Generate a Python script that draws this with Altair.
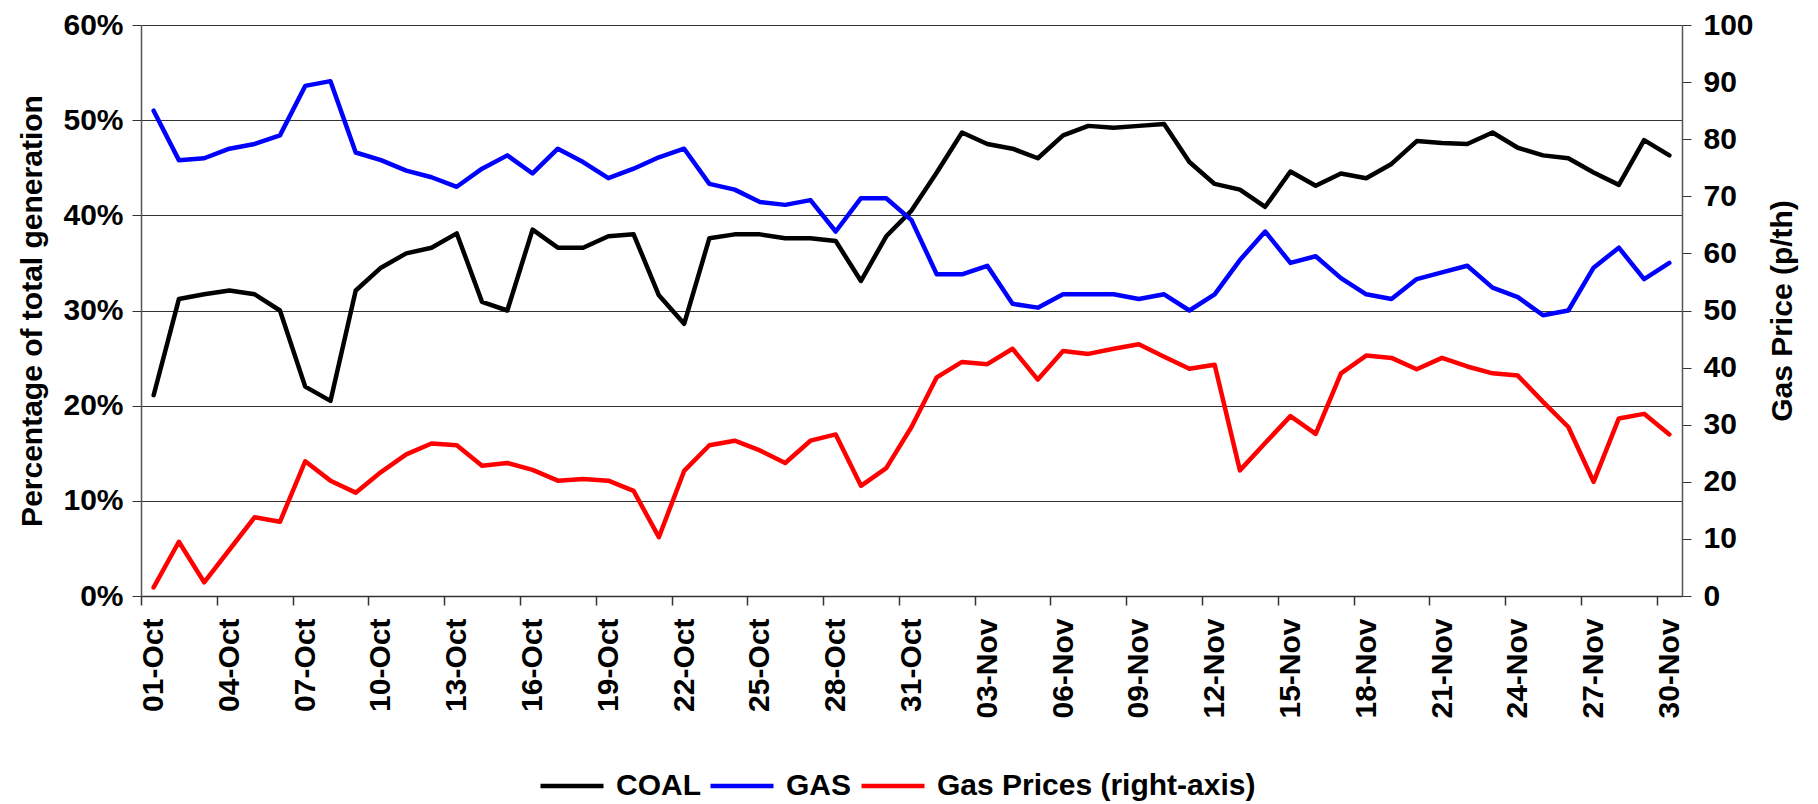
import altair as alt
import pandas as pd

# Categories: daily dates 01-Oct .. 30-Nov
dates = [d.strftime("%d-%b") for d in pd.date_range("2000-10-01", "2000-11-30")]

# Share of total generation (%)
coal = [21.1, 31.2, 31.7, 32.1, 31.7, 30.0, 22.0, 20.5, 32.1, 34.5,
        36.0, 36.6, 38.1, 30.9, 30.0, 38.5, 36.6, 36.6, 37.8, 38.0,
        31.6, 28.6, 37.6, 38.0, 38.0, 37.6, 37.6, 37.3, 33.1, 37.8,
        40.5, 44.5, 48.7, 47.5, 47.0, 46.0, 48.4, 49.4, 49.2, 49.4,
        49.6, 45.6, 43.3, 42.7, 40.9, 44.6, 43.1, 44.4, 43.9, 45.4,
        47.8, 47.6, 47.5, 48.7, 47.1, 46.3, 46.0, 44.5, 43.2, 47.9,
        46.3]
gas = [51.0, 45.8, 46.0, 47.0, 47.5, 48.4, 53.6, 54.1, 46.6, 45.8,
       44.7, 44.0, 43.0, 44.9, 46.3, 44.4, 47.0, 45.6, 43.9, 44.9,
       46.1, 47.0, 43.3, 42.7, 41.4, 41.1, 41.6, 38.3, 41.8, 41.8,
       39.5, 33.8, 33.8, 34.7, 30.7, 30.3, 31.7, 31.7, 31.7, 31.2,
       31.7, 30.0, 31.7, 35.3, 38.3, 35.0, 35.7, 33.4, 31.7, 31.2,
       33.3, 34.0, 34.7, 32.4, 31.4, 29.5, 30.0, 34.5, 36.6, 33.3,
       35.0]
# Gas price (p/th), right axis
price = [1.5, 9.5, 2.4, 8.1, 13.8, 13.0, 23.6, 20.2, 18.1, 21.7,
         24.8, 26.7, 26.4, 22.8, 23.3, 22.1, 20.2, 20.5, 20.2, 18.4,
         10.3, 21.9, 26.4, 27.2, 25.5, 23.3, 27.2, 28.3, 19.3, 22.4,
         29.6, 38.3, 41.0, 40.6, 43.3, 37.9, 42.9, 42.4, 43.3, 44.1,
         41.9, 39.8, 40.5, 22.0, 26.8, 31.5, 28.4, 39.0, 42.1, 41.7,
         39.7, 41.7, 40.2, 39.0, 38.6, 34.0, 29.6, 20.0, 31.1, 31.9,
         28.3]

series_names = ["COAL", "GAS", "Gas Prices (right-axis)"]
series_colors = ["#000000", "#0000ff", "#ff0000"]
left_ticks = [0, 0.1, 0.2, 0.3, 0.4, 0.5, 0.6]
right_ticks = [0, 10, 20, 30, 40, 50, 60, 70, 80, 90, 100]

n = len(dates)
rows = []
for i in range(n):
    rows.append({"i": i, "date": dates[i], "series": series_names[0], "value": coal[i] / 100})
for i in range(n):
    rows.append({"i": i, "date": dates[i], "series": series_names[1], "value": gas[i] / 100})
df_left = pd.DataFrame(rows)
df_right = pd.DataFrame({"i": list(range(n)), "date": dates,
                         "series": [series_names[2]] * n, "price": price})

FONT = "Liberation Sans"
FS = 30
label_expr = "[" + ",".join("'" + d + "'" for d in dates) + "][datum.value]"
x_scale = alt.Scale(domain=[-0.5, n - 0.5], nice=False, zero=False)

color = alt.Color(
    "series:N",
    scale=alt.Scale(domain=series_names, range=series_colors),
    legend=alt.Legend(
        orient="none", legendX=397, legendY=727, direction="horizontal",
        title=None, symbolType="stroke", symbolSize=3969, symbolStrokeWidth=4.5,
        labelFontSize=FS, labelFont=FONT, labelFontWeight="bold", labelColor="black",
        labelLimit=1000, columnPadding=0, labelOffset=10, padding=0,
    ),
)

line_props = dict(strokeWidth=4.5, strokeJoin="round", strokeCap="round")

left = alt.Chart(df_left).mark_line(**line_props).encode(
    x=alt.X("i:Q", scale=x_scale, title=None,
            axis=alt.Axis(values=list(range(0, n, 3)), labelExpr=label_expr,
                          ticks=False, tickSize=0, grid=False, labelAngle=270,
                          labelPadding=22, domainColor="#333", domainWidth=1.5,
                          labelOverlap=False, labelBound=False, labelFlush=False)),
    y=alt.Y("value:Q", scale=alt.Scale(domain=[0, 0.6], nice=False),
            axis=alt.Axis(values=left_ticks, format=".0%",
                          title="Percentage of total generation",
                          grid=True, gridColor="#333", gridWidth=1,
                          tickSize=9, labelPadding=9, titlePadding=15,
                          domainColor="#555", domainWidth=1.5)),
    color=color,
)

right = alt.Chart(df_right).mark_line(**line_props).encode(
    x=alt.X("i:Q", scale=x_scale, title=None,
            axis=alt.Axis(orient="bottom", values=[k - 0.5 for k in range(0, n, 3)],
                          labels=False, ticks=True, tickSize=9, domain=False,
                          grid=False, tickColor="#333", tickWidth=1.5)),
    y=alt.Y("price:Q", scale=alt.Scale(domain=[0, 100], nice=False),
            axis=alt.Axis(orient="right", values=right_ticks,
                          title="Gas Price (p/th)", titleAngle=270, titleBaseline="top",
                          grid=False, tickSize=9, labelPadding=12, titlePadding=14,
                          domainColor="#555", domainWidth=1.5)),
    color=color,
)

chart = alt.layer(left, right).resolve_scale(
    y="independent"
).resolve_axis(
    x="independent"
).properties(
    width=1541, height=571,
    padding={"left": 9, "top": 2, "right": 5, "bottom": 0},
).configure_view(
    strokeWidth=0
).configure_axis(
    labelFont=FONT, titleFont=FONT, labelFontWeight="bold", titleFontWeight="bold",
    labelColor="black", titleColor="black", labelFontSize=FS, titleFontSize=FS,
    tickColor="#333",
)

chart.save("out.html", embed_options={"renderer": "svg", "actions": False})
